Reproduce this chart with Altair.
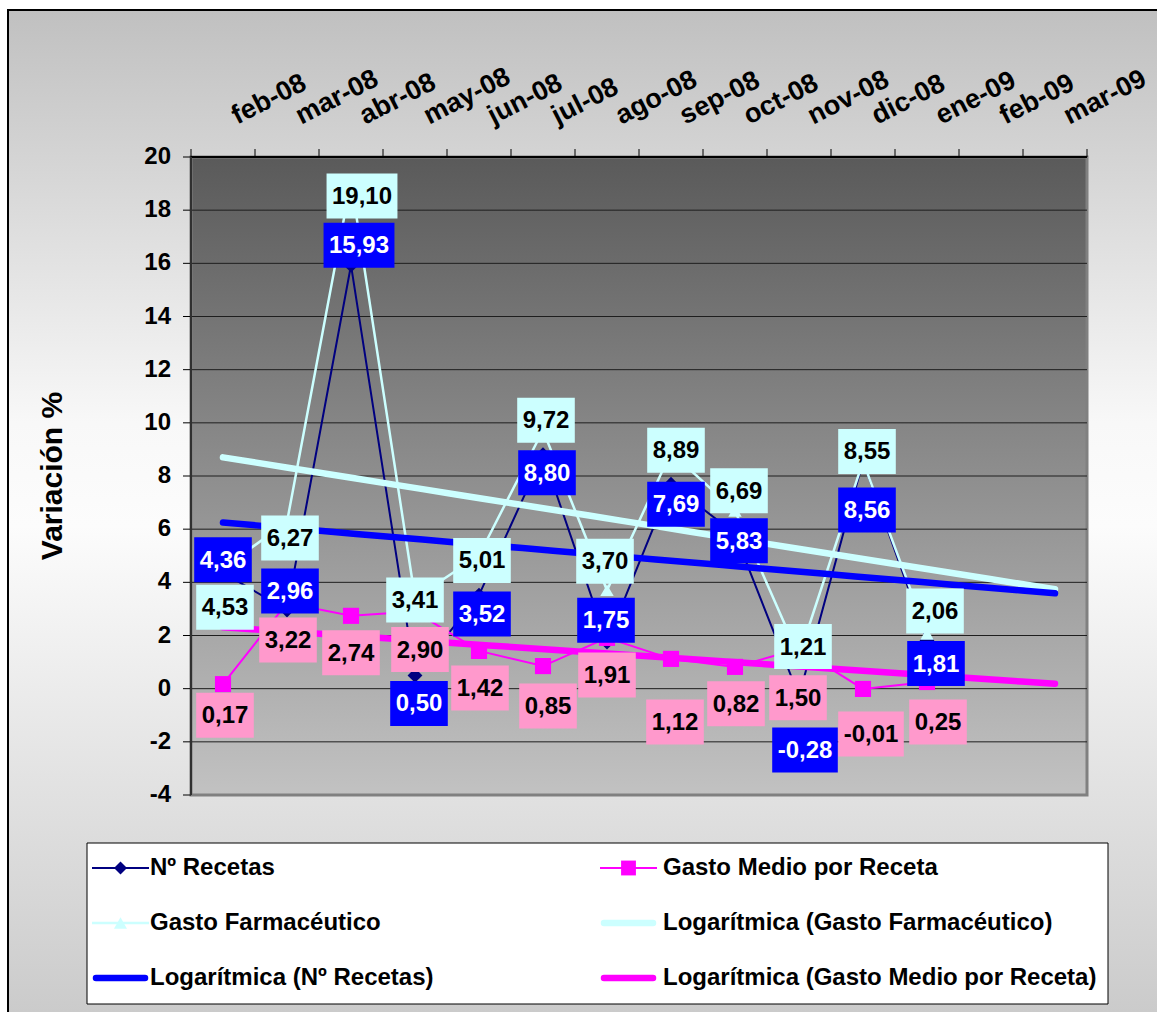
import altair as alt
import pandas as pd

# ---------------- data ----------------
meses = ["feb-08", "mar-08", "abr-08", "may-08", "jun-08", "jul-08", "ago-08",
         "sep-08", "oct-08", "nov-08", "dic-08", "ene-09", "feb-09", "mar-09"]
fechas = ["2008-02-01", "2008-03-01", "2008-04-01", "2008-05-01", "2008-06-01",
          "2008-07-01", "2008-08-01", "2008-09-01", "2008-10-01", "2008-11-01",
          "2008-12-01", "2009-01-01", "2009-02-01", "2009-03-01"]
serie_recetas = "Nº Recetas"
serie_medio = "Gasto Medio por Receta"
serie_farm = "Gasto Farmacéutico"
recetas = [4.36, 2.96, 15.93, 0.50, 3.52, 8.80, 1.75, 7.69, 5.83, -0.28, 8.56, 1.81]
gasto_medio = [0.17, 3.22, 2.74, 2.90, 1.42, 0.85, 1.91, 1.12, 0.82, 1.50, -0.01, 0.25]
gasto_farm = [4.53, 6.27, 19.10, 3.41, 5.01, 9.72, 3.70, 8.89, 6.69, 1.21, 8.55, 2.06]
y_ticks = list(range(-4, 21, 2))
y_title = "Variación %"

# ---------------- layout (pixels) ----------------
W, H = 896, 638
PAD = {"left": 191, "top": 157, "right": 70, "bottom": 217}
# data-label box offsets from their point (pixels)
lab_recetas_dx = [0, 3, 8, 4, 3, 4, -1, 5, 4, 6, 4, 9]
lab_recetas_dy = [-13, -19, -20, 28, 19, 18, -22, 20, 7, 54, 49, 23]
lab_medio_dx = [2, 1, 0, 5, 1, 5, 0, 4, 1, -1, 8, 11]
lab_medio_dy = [31, 37, 37, 38, 37, 40, 37, 63, 37, 49, 45, 40]
lab_farm_dx = [2, 3, 11, 0, 3, 3, -2, 5, 4, 4, 4, 8]
lab_farm_dy = [39, 16, 15, 2, 5, -10, -29, -2, -20, -10, -10, -23]

FONT = "Liberation Sans"

base_date = pd.Timestamp("1899-12-30")
serials = [(pd.Timestamp(f) - base_date).days for f in fechas]

rows = []
for name, vals, dxs, dys in [(serie_recetas, recetas, lab_recetas_dx, lab_recetas_dy),
                             (serie_medio, gasto_medio, lab_medio_dx, lab_medio_dy),
                             (serie_farm, gasto_farm, lab_farm_dx, lab_farm_dy)]:
    for i, v in enumerate(vals):
        rows.append({"serie": name, "t": i + 1, "v": v, "serial": serials[i],
                     "lbl": f"{v:.2f}".replace(".", ","), "ldx": dxs[i], "ldy": dys[i]})
df = pd.DataFrame(rows)
dummy = pd.DataFrame({"d": [0]})
grid_df = pd.DataFrame({"g": [g for g in y_ticks if -4 < g < 20]})
ytick_df = pd.DataFrame({"yt": y_ticks, "ytl": [str(v) for v in y_ticks]})
month_df = pd.DataFrame({"t": list(range(1, len(meses) + 1)), "mes": meses})
bound_df = pd.DataFrame({"b": [i + 0.5 for i in range(len(meses) + 1)]})

xs = alt.Scale(domain=[0.5, 14.5], nice=False, zero=False)
ys = alt.Scale(domain=[-4, 20], nice=False, zero=False)


def X(f):
    return alt.X(f + ":Q", scale=xs, axis=None)


def Y(f):
    return alt.Y(f + ":Q", scale=ys, axis=None)


layers = []

# outer background
outer_grad = alt.LinearGradient(gradient="linear", x1=0, x2=0, y1=0, y2=1, stops=[
    alt.GradientStop(color="#c0c0c0", offset=0),
    alt.GradientStop(color="#f8f8f8", offset=0.4),
    alt.GradientStop(color="#fcfcfc", offset=0.5),
    alt.GradientStop(color="#c8c8c8", offset=1)])
layers.append(alt.Chart(dummy).mark_rect(fill=outer_grad, stroke="black", strokeWidth=2).encode(
    x=alt.value(-183), x2=alt.value(1000), y=alt.value(-147), y2=alt.value(H + PAD["bottom"] + 30)))

# plot-area background
plot_grad = alt.LinearGradient(gradient="linear", x1=0, x2=0, y1=0, y2=1, stops=[
    alt.GradientStop(color="#5a5a5a", offset=0),
    alt.GradientStop(color="#c2c2c2", offset=1)])
layers.append(alt.Chart(dummy).mark_rect(fill=plot_grad, stroke="#808080", strokeWidth=3).encode(
    x=alt.value(0), x2=alt.value(W), y=alt.value(0), y2=alt.value(H)))

# gridlines
layers.append(alt.Chart(grid_df).mark_rule(color="#1e1e1e", strokeWidth=1).encode(
    y=Y("g"), x=alt.value(0), x2=alt.value(W)))

styles = {
    serie_recetas: dict(line="#000080", lw=2, shape="diamond", size=220,
                        box="#0000ff", text="white", trend="#0000ff"),
    serie_medio: dict(line="#ff00ff", lw=2, shape="square", size=260,
                      box="#ff99cc", text="black", trend="#ff00ff"),
    serie_farm: dict(line="#ccffff", lw=2.5, shape="triangle-up", size=180,
                     box="#ccffff", text="black", trend="#ccffff"),
}

for name in [serie_recetas, serie_medio, serie_farm]:
    st = styles[name]
    base = alt.Chart(df).transform_filter(alt.datum.serie == name)
    layers.append(base.mark_line(color=st["line"], strokeWidth=st["lw"]).encode(x=X("t"), y=Y("v")))
    layers.append(base.mark_point(shape=st["shape"], filled=True, color=st["line"], opacity=1,
                                  size=st["size"]).encode(x=X("t"), y=Y("v")))

# logarithmic trend lines (on date serials, projected 2 periods forward)
span = serials[13] - serials[0]
for name in [serie_farm, serie_recetas, serie_medio]:
    st = styles[name]
    layers.append(
        alt.Chart(df).transform_filter(alt.datum.serie == name)
        .transform_regression("serial", "v", method="log", extent=[serials[0], serials[13]])
        .transform_calculate(t=f"1 + 13 * (datum.serial - {serials[0]}) / {span}")
        .mark_line(color=st["trend"], strokeWidth=6.5, strokeCap="round")
        .encode(x=X("t"), y=Y("v"))
    )

# data labels
for name in [serie_medio, serie_recetas, serie_farm]:
    st = styles[name]
    lb = (alt.Chart(df).transform_filter(alt.datum.serie == name)
          .transform_calculate(
              w="11 + 13.3 * (length(datum.lbl) - 1 - (datum.v < 0 ? 1 : 0)) + 6.7 + (datum.v < 0 ? 8 : 0)",
              lx=f"datum.t + datum.ldx / {W / 14}",
              ly=f"datum.v - datum.ldy / {H / 24}")
          .transform_calculate(
              box="'M' + (-datum.w / 2) + ',-22.5H' + (datum.w / 2) + 'V22.5H' + (-datum.w / 2) + 'Z'"))
    layers.append(lb.mark_point(filled=True, color=st["box"], opacity=1, size=4, strokeWidth=0)
                  .encode(x=X("lx"), y=Y("ly"), shape=alt.Shape("box:N", scale=None)))
    layers.append(lb.mark_text(font=FONT, fontSize=24, fontWeight="bold", color=st["text"],
                               align="center", baseline="middle", dy=1)
                  .encode(x=X("lx"), y=Y("ly"), text=alt.Text("lbl:N")))

# ---- axes drawn as marks (top category axis, left value axis) ----
layers.append(alt.Chart(bound_df).mark_rule(color="black", strokeWidth=1).encode(
    x=X("b"), y=alt.value(-8), y2=alt.value(0)))
layers.append(alt.Chart(dummy).mark_rule(color="black", strokeWidth=2).encode(
    x=alt.value(0), x2=alt.value(W), y=alt.value(0)))
layers.append(alt.Chart(month_df).mark_text(font=FONT, fontSize=27, fontWeight="bold", color="black",
                                            align="left", baseline="middle", angle=333, dx=12).encode(
    x=X("t"), y=alt.value(-34), text=alt.Text("mes:N")))
layers.append(alt.Chart(ytick_df).mark_rule(color="black", strokeWidth=1).encode(
    y=Y("yt"), x=alt.value(-8), x2=alt.value(0)))
layers.append(alt.Chart(dummy).mark_rule(color="#303030", strokeWidth=2).encode(
    x=alt.value(0), y=alt.value(0), y2=alt.value(H)))
layers.append(alt.Chart(ytick_df).mark_text(font=FONT, fontSize=24, fontWeight="bold", color="black",
                                            align="right", baseline="middle").encode(
    y=Y("yt"), x=alt.value(-20), text=alt.Text("ytl:N")))
layers.append(alt.Chart(dummy).mark_text(font=FONT, fontSize=30, fontWeight="bold", color="black",
                                         align="center", baseline="middle", angle=270).encode(
    x=alt.value(-138), y=alt.value(319), text=alt.value(y_title)))

# legend
layers.append(alt.Chart(dummy).mark_rect(fill="white", stroke="black", strokeWidth=1).encode(
    x=alt.value(-104), x2=alt.value(917), y=alt.value(686), y2=alt.value(847)))
leg_cols = [(-99, -41), (409, 472)]
leg_rows = [711, 766, 821]
legend_items = [
    (serie_recetas, 0, 0, "#000080", 2, "diamond", 170),
    (serie_medio, 1, 0, "#ff00ff", 2, "square", 220),
    (serie_farm, 0, 1, "#ccffff", 2.5, "triangle-up", 170),
    ("Logarítmica (" + serie_farm + ")", 1, 1, "#ccffff", 6.5, None, 0),
    ("Logarítmica (" + serie_recetas + ")", 0, 2, "#0000ff", 6.5, None, 0),
    ("Logarítmica (" + serie_medio + ")", 1, 2, "#ff00ff", 6.5, None, 0),
]
for text, c, r, color, lw, shape, size in legend_items:
    x0, tx = leg_cols[c]
    yy = leg_rows[r]
    cap = "round" if shape is None else "butt"
    layers.append(alt.Chart(dummy).mark_rule(color=color, strokeWidth=lw, strokeCap=cap).encode(
        x=alt.value(x0 + 4 if shape is None else x0), x2=alt.value(x0 + 53 if shape is None else x0 + 57),
        y=alt.value(yy)))
    if shape is not None:
        layers.append(alt.Chart(dummy).mark_point(shape=shape, filled=True, color=color, opacity=1,
                                                  size=size).encode(
            x=alt.value(x0 + 28.5), y=alt.value(yy)))
    layers.append(alt.Chart(dummy).mark_text(font=FONT, fontSize=24, fontWeight="bold",
                                             color="black", align="left", baseline="middle").encode(
        x=alt.value(tx), y=alt.value(yy), text=alt.value(text)))

chart = (alt.layer(*layers)
         .properties(width=W, height=H, padding=PAD, autosize=alt.AutoSizeParams(type="none"))
         .configure_view(strokeWidth=0)
         .configure(font=FONT, background="white"))

chart.save("out.html", embed_options={"renderer": "svg", "actions": False})
